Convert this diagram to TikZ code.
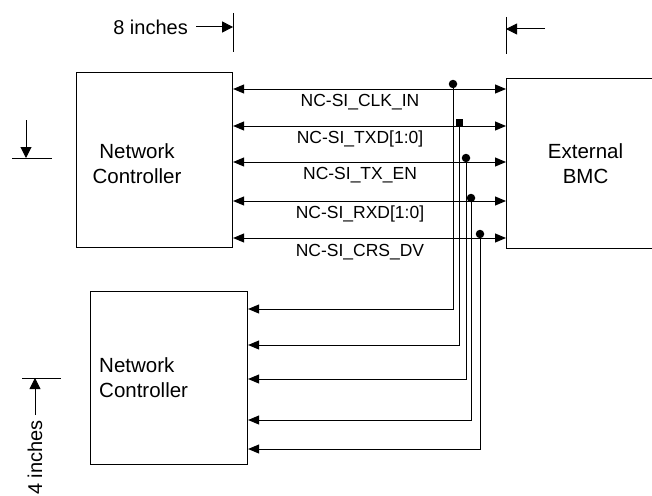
\documentclass[tikz,border=0pt]{standalone}
\usepackage{fontspec}
\setmainfont{Liberation Sans}
\usetikzlibrary{arrows.meta,positioning}

\begin{document}
\begin{tikzpicture}[
    x=1pt, y=-1pt,
    ctrlbox/.style={rectangle, draw, line width=1.1pt, anchor=north west, inner sep=0pt},
    boxtext/.style={font=\fontsize{20.5}{25}\selectfont, inner sep=0pt},
    siglabel/.style={font=\fontsize{17.5}{20}\selectfont, inner sep=0pt},
    dimtext/.style={font=\fontsize{20}{24}\selectfont, inner sep=0pt},
    busline/.style={{Triangle[length=11pt,width=9pt]}-{Triangle[length=11pt,width=9pt]}, line width=1pt},
    tapline/.style={-{Triangle[length=11pt,width=9pt]}, line width=1pt},
    dimarrow/.style={-{Triangle[length=11pt,width=11pt]}, line width=1pt},
    dimtick/.style={line width=1pt},
    junction/.style={circle, fill, inner sep=0pt, minimum size=8.5pt},
    sqjunction/.style={rectangle, fill, inner sep=0pt, minimum size=7pt}
]
    \useasboundingbox (0,0) rectangle (652,495);
    \clip (0,0) rectangle (652,495);

    % blocks
    \node [ctrlbox, minimum width=156pt, minimum height=175pt] (nc1) at (76,72) {};
    \node [ctrlbox, minimum width=157pt, minimum height=173pt] (nc2) at (90,291) {};
    \node [ctrlbox, minimum width=158pt, minimum height=170pt] (bmc) at (506,78) {};

    \node [boxtext, align=center] (nc1txt) at (137,164) {Network\\Controller};
    \node [boxtext, align=left, anchor=west] (nc2txt) at (99,378) {Network\\Controller};
    \node [boxtext, align=center] (bmctxt) at (bmc.center) {External\\BMC};

    % shared bus
    \draw [busline] (nc1.east |- 0,89) -- (bmc.west |- 0,89);
    \draw [busline] (nc1.east |- 0,126) -- (bmc.west |- 0,126);
    \draw [busline] (nc1.east |- 0,162) -- (bmc.west |- 0,162);
    \draw [busline] (nc1.east |- 0,201) -- (bmc.west |- 0,201);
    \draw [busline] (nc1.east |- 0,238) -- (bmc.west |- 0,238);

    \node [siglabel] (lclk) at (360,102) {NC-SI\_CLK\_IN};
    \node [siglabel] (ltxd) at (360,139) {NC-SI\_TXD[1:0]};
    \node [siglabel] (ltxen) at (360,175) {NC-SI\_TX\_EN};
    \node [siglabel] (lrxd) at (360,214) {NC-SI\_RXD[1:0]};
    \node [siglabel] (lcrs) at (360,252) {NC-SI\_CRS\_DV};

    % taps to second controller
    \node [junction] (j1) at (453,84) {};
    \node [sqjunction] (j2) at (459,122) {};
    \node [junction] (j3) at (466,158) {};
    \node [junction] (j4) at (471,198) {};
    \node [junction] (j5) at (480,234) {};

    \draw [tapline] (j1.center) |- (nc2.east |- 0,309);
    \draw [tapline] (j2.center) |- (nc2.east |- 0,345);
    \draw [tapline] (j3.center) |- (nc2.east |- 0,379);
    \draw [tapline] (j4.center) |- (nc2.east |- 0,420);
    \draw [tapline] (j5.center) |- (nc2.east |- 0,449);

    % dimensions
    \coordinate (wtick) at (nc1.east |- 0,13);
    \draw [dimtick] (wtick) -- ++(0,39);
    \node [dimtext, anchor=east] (w8) at (188,27) {8 inches};
    \draw [dimarrow] ([xshift=8pt]w8.east) -- (w8.east -| wtick);

    \coordinate (btick) at (bmc.west |- 0,17);
    \draw [dimtick] (btick) -- ++(0,37);
    \coordinate (barrow) at (545,29);
    \draw [dimarrow] (barrow) -- (barrow -| btick);

    \coordinate (htick) at (12,158);
    \draw [dimtick] (htick) -- ++(40,0);
    \coordinate (harrow) at (26,120);
    \draw [dimarrow] (harrow) -- (harrow |- htick);

    \coordinate (ltick) at (22,378);
    \draw [dimtick] (ltick) -- ++(39,0);
    \node [dimtext, rotate=90, anchor=east] (h4) at (35,420) {4 inches};
    \draw [dimarrow] ([yshift=5pt]h4.east) -- (h4.east |- ltick);
\end{tikzpicture}
\end{document}
